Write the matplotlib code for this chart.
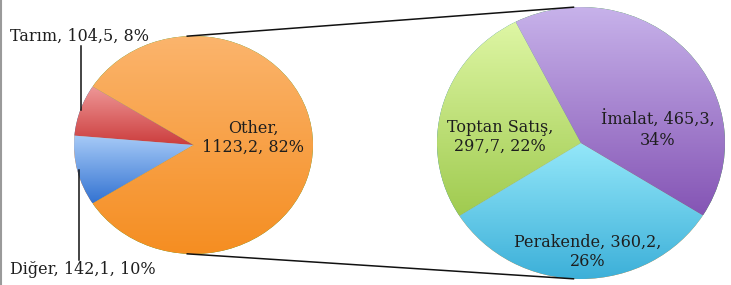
import numpy as np
import matplotlib
matplotlib.use("Agg")
import matplotlib.pyplot as plt
from matplotlib.colors import LinearSegmentedColormap

# data: main pie and the breakdown of "Other"
main_labels = ["Tarım", "Diğer", "Other"]
main_values = [104.5, 142.1, 1123.2]
sub_labels = ["Toptan Satış", "Perakende", "İmalat"]
sub_values = [297.7, 360.2, 465.3]

# (top colour, bottom colour) for the gradient fill of each slice
main_colors = [("#EE9797", "#CC3E3E"), ("#A6CAF7", "#3574D2"), ("#FBB46C", "#F58E22")]
sub_colors = [("#DEF6A4", "#A0CB50"), ("#93E7F9", "#3DB0D9"), ("#C7B2EA", "#8555B5")]

W, H = 731, 285
total = sum(main_values)
plt.rcParams["font.family"] = ["DejaVu Serif"]
txt_color = "#1e1e1e"
fs = 11.5


def fmt(name, v):
    return "%s, %s, %d%%" % (name, ("%.1f" % v).replace(".", ","), round(v / total * 100))


def box(x0, y0, x1, y1):
    # pixel box -> figure fraction
    return [x0 / W, 1 - y1 / H, (x1 - x0) / W, (y1 - y0) / H]


def gradient_pie(ax, values, colors, start):
    wedges, _ = ax.pie(values, startangle=start, counterclock=True,
                       wedgeprops=dict(linewidth=0))
    for w, (top, bot) in zip(wedges, colors):
        ext = w.get_path().get_extents(w.get_transform() - ax.transData)
        cmap = LinearSegmentedColormap.from_list("g", [bot, top])
        im = ax.imshow(np.linspace(0, 1, 64).reshape(-1, 1), cmap=cmap, origin="lower",
                       extent=[ext.x0, ext.x1, ext.y0, ext.y1], aspect="auto",
                       interpolation="bilinear", zorder=2)
        im.set_clip_path(w)
    ax.set_aspect("auto")
    ax.set_xlim(-1, 1)
    ax.set_ylim(-1, 1)
    ax.axis("off")
    return wedges


fig = plt.figure(figsize=(W / 100, H / 100), dpi=100)

# pixel boxes of both pies
lb = (74, 36, 313, 254)
rb = (437, 7, 725, 279)

ax1 = fig.add_axes(box(*lb))
other_angle = main_values[2] / total * 360
gradient_pie(ax1, main_values, main_colors, other_angle / 2)

ax2 = fig.add_axes(box(*rb))
gradient_pie(ax2, sub_values, sub_colors, 117)

# overlay in pixel coordinates for lines and labels
ov = fig.add_axes([0, 0, 1, 1], zorder=5)
ov.set_xlim(0, W)
ov.set_ylim(H, 0)
ov.axis("off")


def on_pie(b, ang):
    cx, cy = (b[0] + b[2]) / 2, (b[1] + b[3]) / 2
    rx, ry = (b[2] - b[0]) / 2, (b[3] - b[1]) / 2
    a = np.deg2rad(ang)
    return cx + rx * np.cos(a), cy - ry * np.sin(a)


# connector lines between the pies
for ang in (93, 267):
    p1 = on_pie(lb, ang)
    p2 = on_pie(rb, ang)
    ov.plot([p1[0], p2[0]], [p1[1], p2[1]], color="#111111", lw=1.1)

# left border line of the picture
ov.plot([0.8, 0.8], [0, H], color="#9a9a9a", lw=1.5)

# labels
ov.text(10, 36, fmt(main_labels[0], main_values[0]), fontsize=fs, color=txt_color,
        ha="left", va="center")
ov.plot([81, 81], [46, 110], color="#111111", lw=1.1)
ov.text(10, 270, fmt(main_labels[1], main_values[1]), fontsize=fs, color=txt_color,
        ha="left", va="center")
ov.plot([79, 79], [170, 260], color="#111111", lw=1.1)

o = fmt(main_labels[2], main_values[2]).split(", ", 1)
ov.text(253, 138, o[0] + ",\n" + o[1], fontsize=fs, color=txt_color,
        ha="center", va="center", linespacing=1.2)

t = fmt(sub_labels[0], sub_values[0]).split(", ", 1)
ov.text(500, 137, t[0] + ",\n" + t[1], fontsize=fs, color=txt_color,
        ha="center", va="center", linespacing=1.2)
p = fmt(sub_labels[1], sub_values[1]).rsplit(", ", 1)
ov.text(588, 252, p[0] + ",\n" + p[1], fontsize=fs, color=txt_color,
        ha="center", va="center", linespacing=1.2)
m = fmt(sub_labels[2], sub_values[2]).rsplit(", ", 1)
ov.text(658, 130, m[0] + ",\n" + m[1], fontsize=fs, color=txt_color,
        ha="center", va="center", linespacing=1.2)

fig.savefig("out.png", dpi=100, facecolor="white")
